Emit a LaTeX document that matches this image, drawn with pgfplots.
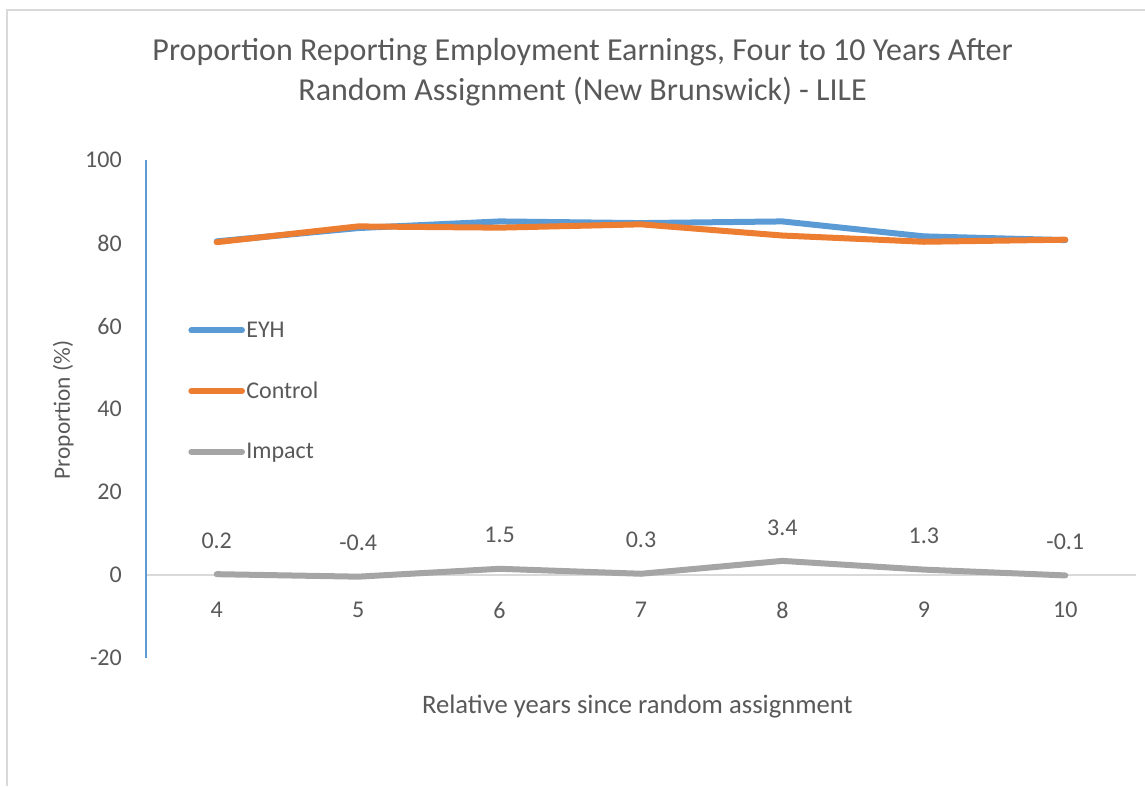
\documentclass[border=0pt]{standalone}
\usepackage{fontspec}
\setmainfont{Carlito}
\usepackage{pgfplots}
\pgfplotsset{compat=1.18}
\definecolor{cblue}{HTML}{5B9BD5}
\definecolor{corange}{HTML}{ED7D31}
\definecolor{cgray}{HTML}{A5A5A5}
\definecolor{textgray}{HTML}{595959}
\definecolor{framegray}{HTML}{D9D9D9}
\begin{document}
\begin{tikzpicture}
\path[use as bounding box] (0pt,0pt) rectangle (858.75pt,-589.5pt);
\draw[framegray, line width=1.5pt] (5.25pt,-589.5pt) -- (5.25pt,-7.5pt) -- (858.75pt,-7.5pt);
\node[text=textgray, font=\fontsize{24}{30}\selectfont, align=center] at (437pt,-54pt)
  {Proportion Reporting Employment Earnings, Four to 10 Years After\\Random Assignment (New Brunswick) - LILE};
\node[text=textgray, font=\fontsize{17.5}{20}\selectfont, rotate=90] at (47.5pt,-307.5pt) {Proportion (\%)};
\node[text=textgray, font=\fontsize{20}{22}\selectfont] at (478pt,-530pt) {Relative years since random assignment};
\begin{axis}[
  at={(109.5pt,-493.5pt)}, anchor=south west,
  scale only axis, width=742.5pt, height=373.5pt,
  xmin=3.5, xmax=10.5, ymin=-20, ymax=100,
  xtick={4,5,6,7,8,9,10}, ytick={-20,0,20,40,60,80,100},
  axis y line=left, axis x line=middle,
  y axis line style={draw=cblue, line width=1.5pt, -},
  x axis line style={draw=framegray, line width=1pt, -},
  major tick length=0pt,
  /pgf/number format/assume math mode=true,
  tick label style={text=textgray, font=\fontsize{18}{20}\selectfont},
  yticklabel style={anchor=east, inner sep=0pt, xshift=-18pt},
  xticklabel style={anchor=north, inner sep=0pt, yshift=-20pt},
  legend style={at={(0.0425,0.536)}, anchor=west, draw=none, fill=none,
    inner sep=0pt, row sep=30pt,
    nodes={inner sep=1pt, text=textgray, font=\fontsize{18}{20}\selectfont}},
  legend cell align=left,
  legend image code/.code={\draw[#1] (0pt,0pt) -- (38pt,0pt);},
  clip=false,
]
\addplot[cblue, line width=4.5pt, line join=round, line cap=round] coordinates {
 (4,80.4) (5,83.6) (6,85.2) (7,84.8) (8,85.2) (9,81.6) (10,80.7)};
\addlegendentry{EYH}
\addplot[corange, line width=4.5pt, line join=round, line cap=round] coordinates {
 (4,80.2) (5,84.0) (6,83.7) (7,84.5) (8,81.8) (9,80.3) (10,80.8)};
\addlegendentry{Control}
\addplot[cgray, line width=4.5pt, line join=round, line cap=round,
  nodes near coords, point meta=explicit symbolic,
  every node near coord/.style={anchor=south, inner sep=0pt, yshift=17pt, text=textgray, font=\fontsize{18}{20}\selectfont}]
 coordinates {
 (4,0.2) [0.2] (5,-0.4) [-0.4] (6,1.5) [1.5] (7,0.3) [0.3] (8,3.4) [3.4] (9,1.3) [1.3] (10,-0.1) [-0.1]};
\addlegendentry{Impact}
\end{axis}
\end{tikzpicture}
\end{document}
